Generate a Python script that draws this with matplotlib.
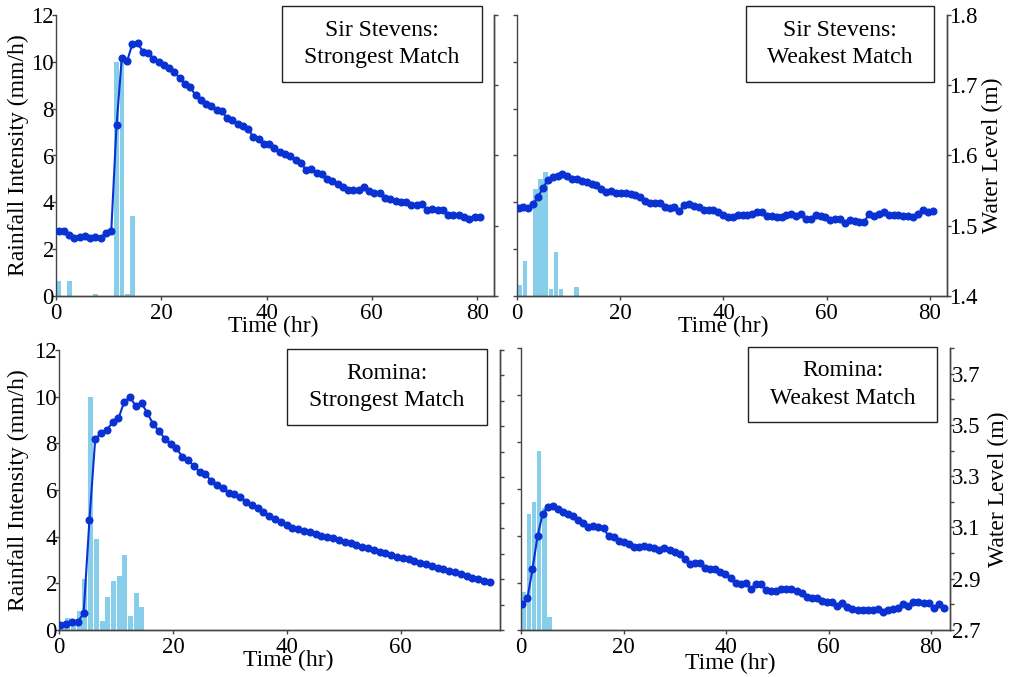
import numpy as np
import matplotlib.pyplot as plt
from matplotlib.patches import Rectangle

plt.rcParams["font.family"] = ["Liberation Serif", "DejaVu Serif"]
plt.rcParams["font.size"] = 17

W, H = 1009, 677

# ---- Sir Stevens, strongest match ----
rain_tl = [0.62, 0, 0.62, 0, 0, 0, 0, 0.1, 0, 0, 0, 10, 10, 0.1, 3.42]
level_tl = [
    1.493, 1.493, 1.487, 1.483, 1.484, 1.486, 1.482, 1.484, 1.483, 1.489,
    1.493, 1.643, 1.739, 1.734, 1.759, 1.760, 1.748, 1.746, 1.738, 1.733,
    1.729, 1.724, 1.719, 1.710, 1.702, 1.697, 1.686, 1.679, 1.674, 1.670,
    1.665, 1.663, 1.653, 1.651, 1.645, 1.642, 1.638, 1.626, 1.623, 1.616,
    1.617, 1.610, 1.605, 1.602, 1.599, 1.594, 1.589, 1.580, 1.581, 1.575,
    1.573, 1.567, 1.564, 1.559, 1.555, 1.551, 1.551, 1.551, 1.555, 1.550,
    1.547, 1.546, 1.539, 1.538, 1.535, 1.534, 1.534, 1.529, 1.529, 1.531,
    1.522, 1.524, 1.522, 1.522, 1.515, 1.516, 1.515, 1.512, 1.509, 1.513,
    1.513,
]

# ---- Sir Stevens, weakest match ----
rain_tr = [0.48, 1.48, 0, 4.59, 4.99, 5.3, 0.28, 1.88, 0.28, 0, 0, 0.38]
level_tr = [
    1.525, 1.526, 1.525, 1.531, 1.541, 1.554, 1.565, 1.569, 1.571, 1.573,
    1.571, 1.567, 1.566, 1.564, 1.562, 1.560, 1.558, 1.552, 1.548, 1.550,
    1.547, 1.547, 1.547, 1.545, 1.544, 1.541, 1.535, 1.533, 1.533, 1.533,
    1.527, 1.525, 1.527, 1.521, 1.530, 1.531, 1.528, 1.527, 1.523, 1.522,
    1.523, 1.520, 1.516, 1.513, 1.513, 1.515, 1.516, 1.516, 1.517, 1.519,
    1.520, 1.514, 1.514, 1.513, 1.513, 1.516, 1.517, 1.514, 1.517, 1.510,
    1.510, 1.515, 1.514, 1.512, 1.508, 1.509, 1.510, 1.504, 1.508, 1.507,
    1.506, 1.506, 1.517, 1.514, 1.517, 1.519, 1.516, 1.515, 1.516, 1.514,
    1.514, 1.513, 1.517, 1.523, 1.519, 1.521,
]

# ---- Romina, strongest match ----
rain_bl = [0.2, 0.5, 0.35, 0.8, 2.2, 10, 3.9, 0.4, 1.4, 2.1, 2.3, 3.2, 0.6, 1.6, 1.0]
level_bl = [
    2.719, 2.722, 2.730, 2.733, 2.765, 3.132, 3.451, 3.473, 3.486, 3.516,
    3.531, 3.597, 3.614, 3.580, 3.590, 3.552, 3.508, 3.482, 3.451, 3.431,
    3.414, 3.381, 3.368, 3.344, 3.322, 3.311, 3.287, 3.269, 3.256, 3.237,
    3.233, 3.223, 3.204, 3.191, 3.178, 3.165, 3.148, 3.135, 3.123, 3.113,
    3.102, 3.097, 3.089, 3.084, 3.076, 3.070, 3.064, 3.060, 3.054, 3.047,
    3.040, 3.034, 3.027, 3.021, 3.014, 3.008, 3.002, 2.994, 2.988, 2.984,
    2.978, 2.971, 2.965, 2.958, 2.951, 2.945, 2.938, 2.932, 2.926, 2.919,
    2.912, 2.905, 2.899, 2.893, 2.890,
]

# ---- Romina, weakest match ----
rain_br = [1.63, 4.93, 5.45, 7.62, 5.2, 0.54]
level_br = [
    2.800, 2.823, 2.936, 3.066, 3.152, 3.181, 3.183, 3.171, 3.161, 3.152,
    3.145, 3.129, 3.118, 3.100, 3.106, 3.100, 3.096, 3.066, 3.061, 3.048,
    3.044, 3.035, 3.022, 3.025, 3.029, 3.022, 3.018, 3.012, 3.018, 3.012,
    3.003, 2.996, 2.977, 2.957, 2.962, 2.960, 2.940, 2.938, 2.938, 2.925,
    2.917, 2.901, 2.882, 2.878, 2.882, 2.860, 2.878, 2.878, 2.856, 2.853,
    2.853, 2.858, 2.860, 2.858, 2.852, 2.843, 2.830, 2.823, 2.823, 2.814,
    2.810, 2.808, 2.795, 2.804, 2.791, 2.782, 2.778, 2.778, 2.778, 2.778,
    2.781, 2.771, 2.777, 2.782, 2.787, 2.800, 2.795, 2.808, 2.808, 2.804,
    2.804, 2.787, 2.800, 2.784,
]

rain_ticks = [0, 2, 4, 6, 8, 10, 12]
time_ticks = [0, 20, 40, 60, 80]

RAIN_C = "#87ceeb"
LINE_C = "#0a32d2"
SPINE_C = "#444444"

fig = plt.figure(figsize=(W / 100, H / 100), dpi=100)


def px_rect(x0, y0, x1, y1):
    return [x0 / W, 1 - y1 / H, (x1 - x0) / W, (y1 - y0) / H]


def style(ax):
    for s in ax.spines.values():
        s.set_color(SPINE_C)
        s.set_linewidth(1.0)
    ax.spines["top"].set_visible(False)
    ax.tick_params(direction="out", length=3, width=1, color=SPINE_C,
                   labelsize=16.5)
    ax.tick_params(axis="x", pad=2)
    ax.tick_params(axis="y", pad=-1.5)


def panel(rect, rain, level, t0, t1, xmax, wl_lim, wl_ticks, wl_labels,
          title, box, left_side, xlab_pos, ylab_x):
    ax = fig.add_axes(px_rect(*rect))
    hours = np.arange(len(rain)) + 0.55
    ax.bar(hours, rain, width=0.88, color=RAIN_C, edgecolor="none", zorder=2)
    ax.set_ylim(0, 12)
    ax.set_yticks(rain_ticks)
    style(ax)
    ax.set_xlabel("Time (hr)", labelpad=0)
    ax.xaxis.set_label_coords(*xlab_pos)

    ax2 = ax.twinx()
    t = np.linspace(t0, t1, len(level))
    ax2.plot(t, level, color=LINE_C, lw=1.5, marker="o", ms=4.8,
             mfc=LINE_C, mec=LINE_C, zorder=3)
    ax2.set_ylim(*wl_lim)
    ax2.set_yticks(wl_ticks)
    style(ax2)
    ax2.spines["left"].set_visible(False)

    # shared x: ticks first (they widen the view), then the limits
    ax.set_xticks(time_ticks)
    ax.set_xlim(0, xmax)

    if left_side:
        ax.set_ylabel("Rainfall Intensity (mm/h)")
        ax.yaxis.set_label_coords(ylab_x, 0.5)
        ax2.set_yticklabels([])
    else:
        ax.set_yticklabels([])
        ax2.set_yticklabels(wl_labels)
        ax2.set_ylabel("Water Level (m)")
        ax2.yaxis.set_label_coords(ylab_x, 0.5)

    bx0, by0, bx1, by1 = box
    fig.add_artist(Rectangle((bx0 / W, 1 - by1 / H), (bx1 - bx0) / W,
                             (by1 - by0) / H, transform=fig.transFigure,
                             facecolor="white", edgecolor="#222222", lw=1.0))
    fig.text((bx0 + bx1) / 2 / W, 1 - (by0 + by1) / 2 / H, title,
             ha="center", va="center", linespacing=1.4)
    return ax, ax2


wl_ticks_ss = [1.4, 1.5, 1.6, 1.7, 1.8]
wl_labels_ss = ["1.4", "1.5", "1.6", "1.7", "1.8"]
wl_ticks_ro = [2.7, 2.8, 2.9, 3.0, 3.1, 3.2, 3.3, 3.4, 3.5, 3.6, 3.7, 3.8]
wl_labels_ro = ["2.7", "", "2.9", "", "3.1", "", "3.3", "", "3.5", "", "3.7", ""]

panel((56, 15, 494, 296), rain_tl, level_tl, 0.5, 80.5, 83.2, (1.4, 1.8),
      wl_ticks_ss, wl_labels_ss, "Sir Stevens:\nStrongest Match",
      (282, 6, 482, 82), True, (0.495, -0.07), -0.062)
panel((517, 15, 947, 296), rain_tr, level_tr, 0.3, 80.5, 83.3, (1.4, 1.8),
      wl_ticks_ss, wl_labels_ss, "Sir Stevens:\nWeakest Match",
      (746, 6, 934, 82), False, (0.48, -0.072), 1.08)
panel((59, 350, 500, 630), rain_bl, level_bl, 0.25, 75.6, 77.4, (2.7, 3.8),
      wl_ticks_ro, wl_labels_ro, "Romina:\nStrongest Match",
      (287, 349, 487, 425), True, (0.52, -0.071), -0.068)
panel((521, 348, 950, 630), rain_br, level_br, 0.25, 82.5, 83.7, (2.7, 3.8),
      wl_ticks_ro, wl_labels_ro, "Romina:\nWeakest Match",
      (748, 347, 937, 422), False, (0.487, -0.081), 1.088)

fig.savefig("out.png", dpi=100)
